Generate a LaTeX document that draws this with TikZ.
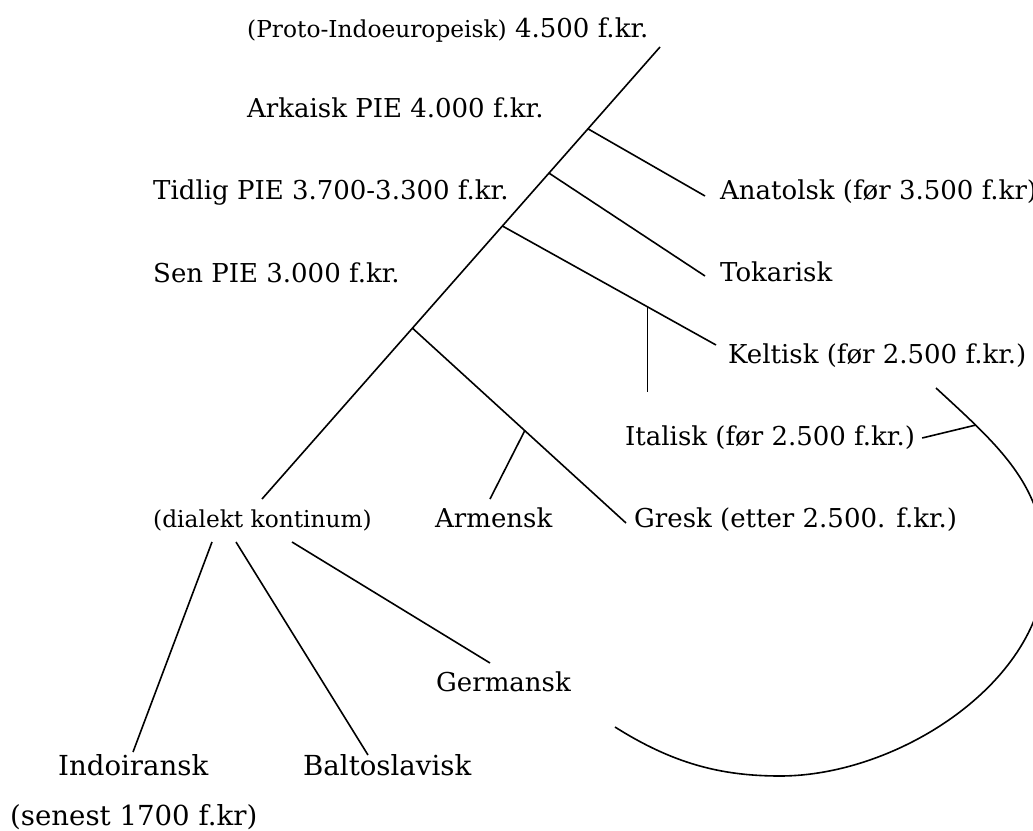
\documentclass[tikz,border=0pt]{standalone}
\usepackage{fontspec}
\setmainfont{DejaVu Serif}
\usepackage{tikz}
\usetikzlibrary{calc, positioning}
\tikzset{
    textnode/.style = {draw=none, fill=none, rectangle, minimum size=0cm, inner sep=0em,
      anchor=base west, font=\fontsize{26}{31}\selectfont},
    smalltextnode/.style = {textnode, font=\fontsize{23.3}{28}\selectfont},
    bigtextnode/.style = {textnode, font=\fontsize{27.6}{33}\selectfont},
    branch/.style = {black, line width=1.6pt}
}
\newcommand{\smallpar}[1]{{\fontsize{23.3}{28}\selectfont #1}}

\begin{document}
\begin{tikzpicture}[x=1pt, y=-1pt]
    \useasboundingbox (0,0) rectangle (1033,830);
    % time labels
    \node [textnode, name=Proto] at (247,37) {\smallpar{(Proto-Indoeuropeisk)} 4.500 f.kr.};
    \node [textnode, name=Arkaisk] at (247,117) {Arkaisk PIE 4.000 f.kr.};
    \node [textnode, name=Tidlig] at (153,199) {Tidlig PIE 3.700-3.300 f.kr.};
    \node [textnode, name=Sen] at (153,282) {Sen PIE 3.000 f.kr.};
    % languages
    \node [textnode, name=Anatolsk] at (720,199) {Anatolsk (før 3.500 f.kr)};
    \node [textnode, name=Tokarisk] at (720,281) {Tokarisk};
    \node [textnode, name=Keltisk] at (728,363) {Keltisk (før 2.500 f.kr.)};
    \node [textnode, name=Italisk] at (625,445) {Italisk (før 2.500 f.kr.)};
    \node [smalltextnode, name=Dialekt] at (153,527) {(dialekt kontinum)};
    \node [textnode, name=Armensk] at (435,527) {Armensk};
    \node [textnode, name=Gresk] at (634,527) {Gresk (etter 2.500. f.kr.)};
    \node [textnode, name=Germansk] at (436,691) {Germansk};
    \node [bigtextnode, name=Indoiransk] at (58,775) {Indoiransk};
    \node [bigtextnode, name=Baltoslavisk] at (303,775) {Baltoslavisk};
    \node [bigtextnode, name=Senest] at (10,825) {(senest 1700 f.kr)};

    % trunk
    \coordinate (Top) at (660,47);
    \coordinate (Bottom) at ($(Dialekt.base west)+(109,-28)$);
    \draw [branch] (Top) -- (Bottom);
    \coordinate (J1) at ($(Top)!0.181!(Bottom)$);
    \coordinate (J2) at ($(Top)!0.279!(Bottom)$);
    \coordinate (J3) at ($(Top)!0.396!(Bottom)$);
    \coordinate (J4) at ($(Top)!0.622!(Bottom)$);

    % branches off the trunk
    \draw [branch] (J1) -- ($(Anatolsk.base west)+(-15,-3)$);
    \draw [branch] (J2) -- ($(Tokarisk.base west)+(-15,-5)$);
    \coordinate (KeltEnd) at ($(Keltisk.base west)+(-12,-18)$);
    \draw [branch] (J3) -- (KeltEnd);
    \coordinate (GreskEnd) at ($(Gresk.base west)+(-8,-4)$);
    \draw [branch] (J4) -- (GreskEnd);

    % Italisk and Armensk stubs
    \coordinate (ItalJ) at ($(J3)!0.68!(KeltEnd)$);
    \draw [branch] (ItalJ) -- (ItalJ |- {$(Italisk.base west)+(0,-53)$});
    \coordinate (ArmJ) at ($(J4)!0.526!(GreskEnd)$);
    \draw [branch] (ArmJ) -- ($(Armensk.base west)+(55,-28)$);

    % dialect continuum
    \draw [branch] ($(Dialekt.base west)+(59,15)$) -- ($(Indoiransk.base west)+(75,-23)$);
    \draw [branch] ($(Dialekt.base west)+(83,15)$) -- ($(Baltoslavisk.base west)+(65,-20)$);
    \draw [branch] ($(Dialekt.base west)+(139,15)$) -- ($(Germansk.base west)+(54,-28)$);

    % arc from Keltisk round to Germansk
    \draw [branch] (936,388) .. controls (1000,447) and (1045,486) .. (1045,566)
        .. controls (1045,680) and (900,776) .. (780,776)
        .. controls (720,776) and (672,763) .. (615,727);
    \coordinate (ArcA) at (976,425);
    \draw [branch] ($(Italisk.base east)+(7,-7)$) -- (ArcA);
\end{tikzpicture}
\end{document}
